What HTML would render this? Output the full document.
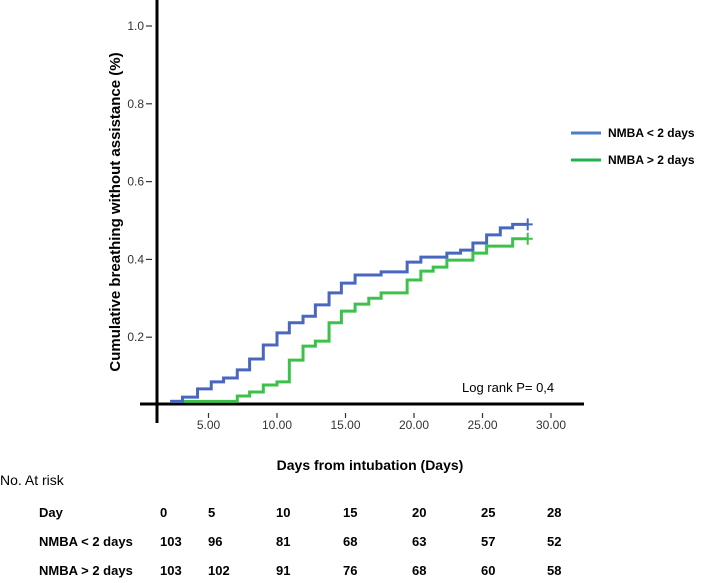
<!DOCTYPE html>
<html><head><meta charset="utf-8"><style>
body{margin:0;background:#fff;width:709px;height:578px;overflow:hidden;font-family:"Liberation Sans",sans-serif}
svg text{font-family:"Liberation Sans",sans-serif}
</style></head><body>
<svg id="chart" width="709" height="578" xmlns="http://www.w3.org/2000/svg">
<g id="plot"></g>
</svg>
<script>
const xTicks=[5,10,15,20,25,30];
const yTicks=[0.2,0.4,0.6,0.8,1.0];
const blueDays=[2.2,3.1,4.2,5.2,6.1,7.1,8.0,9.0,10.0,10.9,11.9,12.8,13.8,14.7,15.7,17.6,19.5,20.5,22.4,23.4,24.3,25.3,26.3,27.2,28.3];
const blueVals=[0.035,0.046,0.067,0.085,0.095,0.116,0.144,0.18,0.211,0.237,0.254,0.283,0.314,0.339,0.36,0.368,0.393,0.406,0.416,0.424,0.442,0.463,0.481,0.49,0.49];
const greenDays=[2.2,7.1,8.0,9.0,10.0,10.9,11.9,12.8,13.8,14.7,15.7,16.7,17.6,19.5,20.5,21.4,22.4,24.3,25.3,27.2,28.3];
const greenVals=[0.035,0.049,0.059,0.077,0.085,0.141,0.177,0.19,0.237,0.267,0.285,0.3,0.314,0.347,0.37,0.38,0.398,0.416,0.434,0.453,0.453];
const riskDays=["0","5","10","15","20","25","28"];
const riskLow=["103","96","81","68","63","57","52"];
const riskHigh=["103","102","91","76","68","60","58"];

const NS="http://www.w3.org/2000/svg";
const g=document.getElementById('plot');
const X=d=>140+d*13.7;
const Y=v=>415-v*389;
function mk(tag,attrs,parent){const e=document.createElementNS(NS,tag);for(const k in attrs)e.setAttribute(k,attrs[k]);(parent||g).appendChild(e);return e;}
function txt(s,attrs){const e=mk('text',attrs);e.textContent=s;return e;}

// axes
let a=mk('line',{x1:157,y1:0,x2:157,y2:423,stroke:'#000','stroke-width':3});


a=mk('line',{x1:140,y1:404,x2:584,y2:404,stroke:'#000','stroke-width':3});



xTicks.forEach(t=>{
  const l=mk('line',{x1:X(t),y1:413,x2:X(t),y2:418,stroke:'#333','stroke-width':1.2});
  
  
  const e=txt(t.toFixed(2),{x:X(t),y:429,'text-anchor':'middle','font-size':12,fill:'#333'});
  
  
});
yTicks.forEach(t=>{
  const l=mk('line',{x1:146,y1:Y(t),x2:152,y2:Y(t),stroke:'#333','stroke-width':1.2});
  
  
  const e=txt(t.toFixed(1),{x:144,y:Y(t)+4,'text-anchor':'end','font-size':12,fill:'#333'});
  
  
});

function stepPath(days,vals){
  let d='M'+X(days[0])+','+Y(vals[0]);
  for(let i=1;i<days.length;i++){d+=' H'+X(days[i])+' V'+Y(vals[i]);}
  return d;
}
function series(days,vals,color,name){
  const p=mk('path',{d:stepPath(days,vals),fill:'none',stroke:color,'stroke-width':3});
  
  
  const n=days.length-1,cx=X(days[n]),cy=Y(vals[n]);
  const c=mk('path',{d:`M${cx-5},${cy} H${cx+5} M${cx},${cy-6} V${cy+6}`,stroke:color,'stroke-width':2});
  
  
}
series(greenDays,greenVals,'#3cc24a','green-series');
series(blueDays,blueVals,'#4a67c0','blue-series');

let e=txt('Log rank P= 0,4',{x:462,y:392,'font-size':13,fill:'#000'});



e=txt('Cumulative breathing without assistance (%)',{x:0,y:0,'font-size':15,'font-weight':'bold','text-anchor':'middle',transform:'translate(120,212) rotate(-90)'});


e=txt('Days from intubation (Days)',{x:370,y:470,'font-size':14,'font-weight':'bold','text-anchor':'middle'});



// legend
[['#4a7fc8','NMBA < 2 days',133],['#22b14c','NMBA > 2 days',160]].forEach(([c,s,y])=>{
  const l=mk('line',{x1:571,y1:y,x2:601,y2:y,stroke:c,'stroke-width':3});
  
  
  const t=txt(s,{x:608,y:y+4,'font-size':12,'font-weight':'bold'});
  
  
});

// risk table
e=txt('No. At risk',{x:0,y:485,'font-size':14});


const colX=[160,208,276,343,412,481,547];
[['Day',riskDays,518],['NMBA < 2 days',riskLow,547],['NMBA > 2 days',riskHigh,576]].forEach(([lab,arr,y])=>{
  const t=txt(lab,{x:39,y:y-1,'font-size':13,'font-weight':'bold'});
  
  
  arr.forEach((v,i)=>{
    const c=txt(v,{x:colX[i],y:y-1,'font-size':13,'font-weight':'bold'});
    
    
  });
});
</script>
</body></html>
